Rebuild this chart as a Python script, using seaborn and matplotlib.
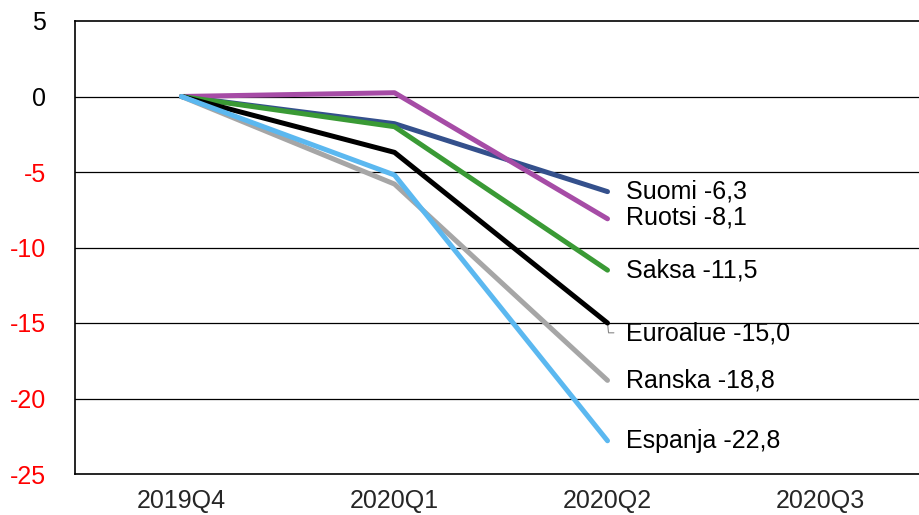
import pandas as pd
import matplotlib.pyplot as plt
import seaborn as sns

quarters = ['2019Q4', '2020Q1', '2020Q2', '2020Q3']
countries = ['Suomi', 'Ruotsi', 'Saksa', 'Euroalue', 'Ranska', 'Espanja']
suomi = [0.0, -1.8, -6.3]
ruotsi = [0.0, 0.25, -8.1]
saksa = [0.0, -2.0, -11.5]
euroalue = [0.0, -3.7, -15.0]
ranska = [0.0, -5.8, -18.8]
espanja = [0.0, -5.2, -22.8]
colors = ['#34508C', '#A64CA6', '#3A9A35', '#000000', '#A6A6A6', '#5BB8F0']
# label nudges (data units) so the end labels don't collide
label_shift = [0, 0.1, 0, -0.7, 0, 0]

series = [suomi, ruotsi, saksa, euroalue, ranska, espanja]
rows = []
for name, vals in zip(countries, series):
    for i, v in enumerate(vals):
        rows.append({'maa': name, 'x': i, 'arvo': v})
df = pd.DataFrame(rows)

sns.set_style('white')
plt.rcParams['font.family'] = ['Liberation Sans', 'DejaVu Sans']

fig = plt.figure(figsize=(9.19, 5.15), dpi=100)
ax = fig.add_axes([75 / 919, 1 - 474 / 515, 1 - 75 / 919, (474 - 21) / 515])

for y in [0, -5, -10, -15, -20]:
    ax.axhline(y, color='black', lw=0.9, zorder=1)

sns.lineplot(data=df, x='x', y='arvo', hue='maa', hue_order=countries,
             palette=colors, linewidth=3.6, sort=False, legend=False, ax=ax, zorder=3)

# end labels
for name, vals, shift in zip(countries, series, label_shift):
    ax.text(2.085, vals[-1] + shift, f"{name} {vals[-1]:.1f}".replace('.', ','),
            fontsize=18, va='center', ha='left', color='black')
# small leader for Euroalue
ax.plot([2.0, 2.005, 2.03], [euroalue[-1], euroalue[-1] - 0.65, euroalue[-1] - 0.65],
        color='#888888', lw=0.8, zorder=2)

ax.set_ylim(-25, 5)
ax.set_yticks(range(-25, 6, 5))
ax.set_yticklabels([str(v) for v in range(-25, 6, 5)], fontsize=18)
for lbl, v in zip(ax.get_yticklabels(), range(-25, 6, 5)):
    lbl.set_color('red' if v < 0 else 'black')
ax.tick_params(axis='y', length=0, pad=21)

ax.set_xlim(-0.5, 3.5 - 8 / 213)
ax.set_xticks(range(len(quarters)))
ax.set_xticklabels(quarters, fontsize=18)
ax.tick_params(axis='x', length=0, pad=11)
ax.set_xticks([0.5, 1.5, 2.5], minor=True)
ax.tick_params(axis='x', which='minor', length=6, direction='in', width=1, color='black')
ax.set_xlabel('')
ax.set_ylabel('')

for side in ['left', 'bottom', 'top']:
    ax.spines[side].set_color('black')
    ax.spines[side].set_linewidth(1.2)
ax.spines['right'].set_visible(False)

fig.savefig('out.png', dpi=100)
